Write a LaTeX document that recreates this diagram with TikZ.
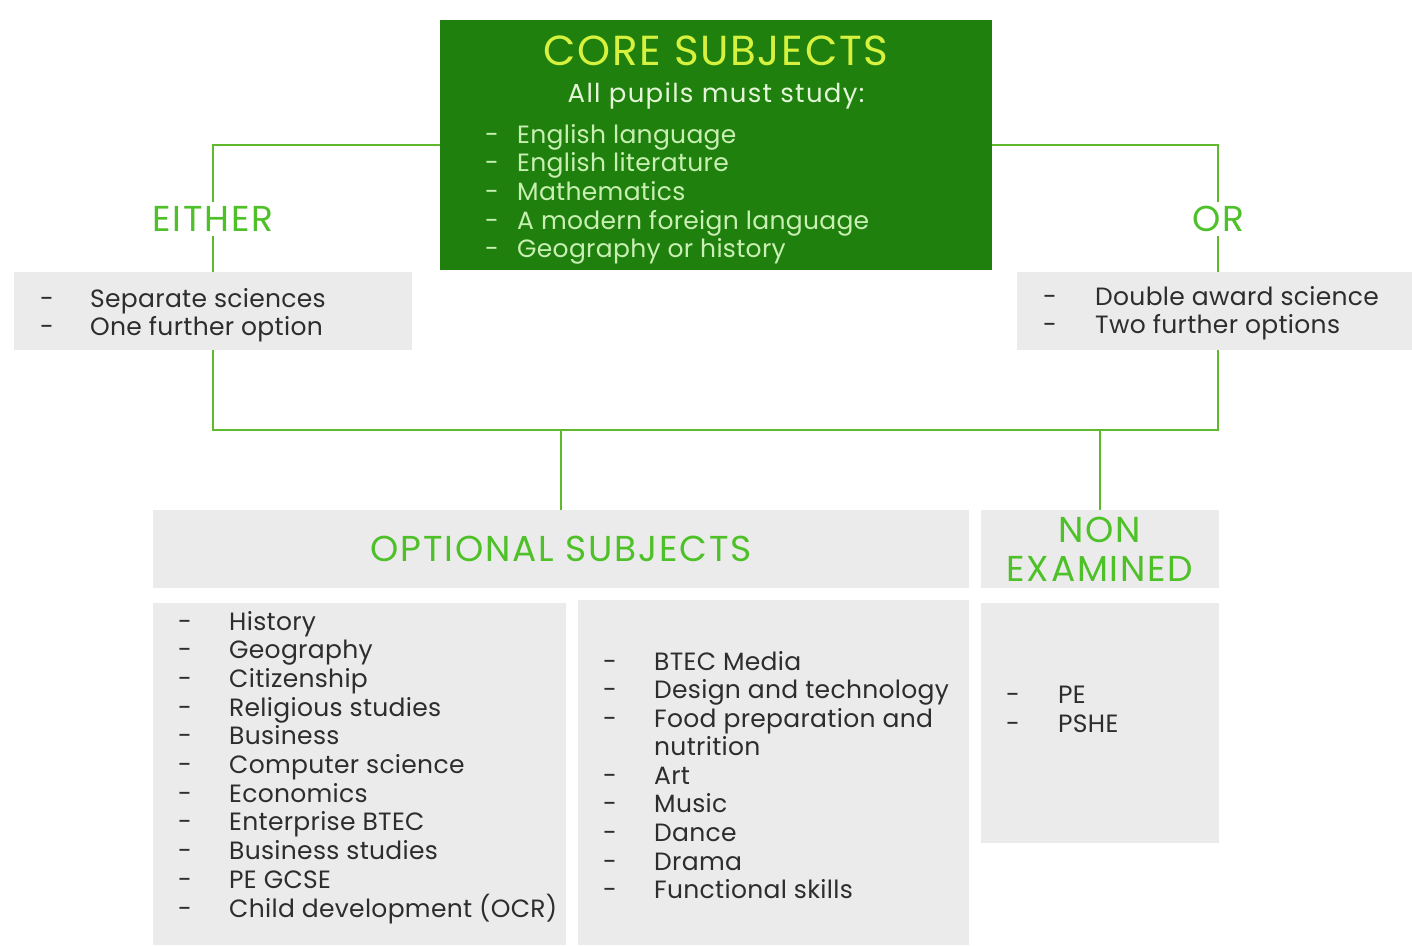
\documentclass[tikz,border=0pt]{standalone}
\usepackage{fontspec}
\setmainfont{Poppins}
\usetikzlibrary{positioning}

\definecolor{coregreen}{RGB}{32,128,14}
\definecolor{titleyellow}{RGB}{214,242,62}
\definecolor{corewhite}{RGB}{228,246,216}
\definecolor{coreitem}{RGB}{200,240,178}
\definecolor{taggreen}{RGB}{78,192,40}
\definecolor{linegreen}{RGB}{96,184,44}
\definecolor{boxgray}{RGB}{235,235,235}
\definecolor{bodygray}{RGB}{45,45,45}

\tikzset{
  panel/.style={fill=boxgray, anchor=north west, inner sep=0pt, outer sep=0pt},
  link/.style={draw=linegreen, line width=1.8pt},
  tag/.style={text=taggreen, inner sep=4pt,
    font=\fontsize{36}{39}\selectfont\addfontfeature{LetterSpace=5}},
  item/.style={anchor=base west, inner sep=0pt, text=bodygray,
    font=\fontsize{25}{29}\selectfont\addfontfeature{LetterSpace=1.2}},
  hyphen/.style={item, anchor=base}
}

\begin{document}
\begin{tikzpicture}[x=1pt,y=-1pt]

  \useasboundingbox (0,0) rectangle (1412,945);

  % core box
  \node[fill=coregreen, anchor=north west, inner sep=0pt, outer sep=0pt,
        minimum width=552, minimum height=250] (core) at (440,20) {};
  \node[anchor=base, inner sep=0pt, text=titleyellow,
        font=\fontsize{42}{48}\selectfont\addfontfeature{LetterSpace=4}]
        (coretitle) at (716,65) {CORE SUBJECTS};
  \node[anchor=base, inner sep=0pt, text=corewhite,
        font=\fontsize{26}{30}\selectfont\addfontfeature{LetterSpace=5}]
        (coresub) at (716,102) {All pupils must study:};
  \foreach \t [count=\i from 0] in {English language, English literature,
      Mathematics, A modern foreign language, Geography or history}{
    \node[hyphen, text=coreitem] (cored-\i) at (492,{143+28.7*\i}) {-};
    \node[item, text=coreitem] (core-\i) at (517,{143+28.7*\i}) {\t};
  }

  % either / or
  \node[tag] (either) at (213,219) {EITHER};
  \node[tag] (or) at (1218,219) {OR};

  \node[panel, minimum width=398, minimum height=78] (sepbox) at (14,272) {};
  \node[panel, minimum width=395, minimum height=78] (dblbox) at (1017,272) {};

  \node[hyphen] (sepd-0) at (47,307) {-};
  \node[item] (sep-0) at (90,307) {Separate sciences};
  \node[hyphen] (sepd-1) at (47,335) {-};
  \node[item] (sep-1) at (90,335) {One further option};

  \node[hyphen] (dbld-0) at (1050,305) {-};
  \node[item] (dbl-0) at (1095,305) {Double award science};
  \node[hyphen] (dbld-1) at (1050,333) {-};
  \node[item] (dbl-1) at (1095,333) {Two further options};

  \draw[link] (core.west) -| (either.north);
  \draw[link] (either.south) -- (sepbox.north);
  \draw[link] (core.east) -| (or.north);
  \draw[link] (or.south) -- (or.south |- dblbox.north);

  \coordinate (bus) at (0,430);
  \draw[link] (sepbox.south) |- (bus -| or.south) -- (or.south |- dblbox.south);

  % headers
  \node[panel, minimum width=816, minimum height=78] (optbox) at (153,510) {};
  \node[panel, minimum width=238, minimum height=78] (nonbox) at (981,510) {};
  \node[tag] (opttitle) at (optbox.center) {OPTIONAL SUBJECTS};
  \node[tag, align=center] (nontitle) at (nonbox.center) {NON\\EXAMINED};

  \draw[link] (optbox.north) -- (optbox.north |- bus);
  \draw[link] (nonbox.north) -- (nonbox.north |- bus);

  % lists
  \node[panel, minimum width=413, minimum height=342] (lista) at (153,603) {};
  \node[panel, minimum width=391, minimum height=345] (listb) at (578,600) {};
  \node[panel, minimum width=238, minimum height=240] (listc) at (981,603) {};

  \foreach \t [count=\i from 0] in {History, Geography, Citizenship,
      Religious studies, Business, Computer science, Economics,
      Enterprise BTEC, Business studies, PE GCSE, {Child development (OCR)}}{
    \node[hyphen] (lad-\i) at (185,{630+28.7*\i}) {-};
    \node[item] (la-\i) at (229,{630+28.7*\i}) {\t};
  }

  \foreach \t/\y [count=\i from 0] in {BTEC Media/670, Design and technology/698,
      Food preparation and/727, Art/784, Music/812, Dance/841, Drama/870,
      Functional skills/898}{
    \node[hyphen] (lbd-\i) at (610,\y) {-};
    \node[item] (lb-\i) at (654,\y) {\t};
  }
  \node[item] (lb-cont) at (654,755) {nutrition};

  \node[hyphen] (lcd-0) at (1013,703) {-};
  \node[item] (lc-0) at (1058,703) {PE};
  \node[hyphen] (lcd-1) at (1013,732) {-};
  \node[item] (lc-1) at (1058,732) {PSHE};

\end{tikzpicture}
\end{document}
